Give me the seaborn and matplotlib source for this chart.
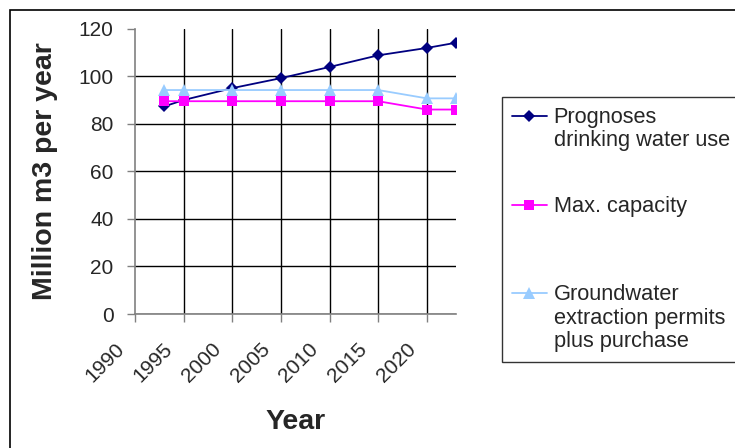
import numpy as np
import pandas as pd
import matplotlib.pyplot as plt
import matplotlib.transforms as mtransforms
import seaborn as sns
from matplotlib.patches import Rectangle

# values (million m3 per year)
years = [1993, 1995, 2000, 2005, 2010, 2015, 2020, 2023]
prognoses = [87.3, 90.0, 95.0, 99.2, 103.9, 108.8, 111.9, 114.1]
max_capacity = [89.5, 89.5, 89.5, 89.5, 89.5, 89.5, 86.0, 86.0]
groundwater = [94.2, 94.2, 94.2, 94.2, 94.2, 94.2, 90.7, 90.7]

series_labels = ['Prognoses\ndrinking water use', 'Max. capacity',
                 'Groundwater\nextraction permits\nplus purchase']
xticks = [1990, 1995, 2000, 2005, 2010, 2015, 2020]
yticks = [0, 20, 40, 60, 80, 100, 120]

sns.set_style('white')
plt.rcParams['font.family'] = ['Liberation Sans', 'DejaVu Sans']

fig = plt.figure(figsize=(7.35, 4.48), dpi=100)
ax = fig.add_axes([135 / 735, 1 - 314 / 448, (456 - 135) / 735, (314 - 28.7) / 448])

# chart area frame
fig.patches.append(Rectangle((10 / 735, -0.1), 1.2, 1.1 - 10 / 448, transform=fig.transFigure,
                             fill=False, edgecolor='black', linewidth=1.2, zorder=0))

df = pd.DataFrame({'Year': years, 'prog': prognoses, 'maxcap': max_capacity, 'gw': groundwater})

sns.lineplot(data=df, x='Year', y='prog', ax=ax, color='#000080', marker='D', markersize=6,
             markeredgewidth=0, linewidth=1.3, label=series_labels[0])
sns.lineplot(data=df, x='Year', y='maxcap', ax=ax, color='#FF00FF', marker='s', markersize=7.5,
             markeredgewidth=0, linewidth=1.3, label=series_labels[1])
sns.lineplot(data=df, x='Year', y='gw', ax=ax, color='#99CCFF', marker='^', markersize=8.5,
             markeredgewidth=0, linewidth=1.3, label=series_labels[2])

ax.set_xlim(1990, 2023)
ax.set_ylim(0, 120)
ax.set_xticks(xticks)
ax.set_yticks(yticks)
ax.set_xticklabels([str(y) for y in xticks], rotation=45, ha='right', va='center',
                   rotation_mode='anchor')
ax.tick_params(axis='both', labelsize=15, direction='out', length=5.5, width=1, color='#808080',
               left=True, bottom=True)
ax.tick_params(axis='y', pad=10)
ax.tick_params(axis='x', pad=17.5)
shift = mtransforms.ScaledTranslation(-0.14, 0, fig.dpi_scale_trans)
for lbl in ax.get_xticklabels():
    lbl.set_transform(lbl.get_transform() + shift)

ax.grid(True, color='black', linewidth=1)
ax.set_axisbelow(True)
for s in ['top', 'right']:
    ax.spines[s].set_visible(False)
for s in ['left', 'bottom']:
    ax.spines[s].set_color('#808080')
    ax.spines[s].set_linewidth(1.2)

fig.canvas.draw()
ax.yaxis.get_gridlines()[-1].set_visible(False)
ax.xaxis.get_gridlines()[0].set_visible(False)

ax.set_xlabel('Year', fontsize=20.5, fontweight='bold', labelpad=16.5)
ax.set_ylabel('Million m3 per year', fontsize=20.5, fontweight='bold', labelpad=14.5)

handles, labels = ax.get_legend_handles_labels()
labels = [labels[0], labels[1] + '\n', labels[2]]
leg = ax.legend(handles, labels, loc='upper left', bbox_to_anchor=(501.7 / 735, 1 - 96.7 / 448, 0.4, 0.0),
                bbox_transform=fig.transFigure, mode='expand', borderaxespad=0, frameon=True,
                fancybox=False, fontsize=15.7, handlelength=1.62, handleheight=1.1,
                handletextpad=0.3, borderpad=0.46, labelspacing=2.04)
leg.get_frame().set_edgecolor('black')
leg.get_frame().set_linewidth(1)
for t in leg.get_texts():
    t.set_linespacing(1.15)
# put each legend key next to the first line of its label
for column in leg._legend_handle_box.get_children():
    for item in column.get_children():
        item.align = 'top'

fig.savefig('out.png', dpi=100)
